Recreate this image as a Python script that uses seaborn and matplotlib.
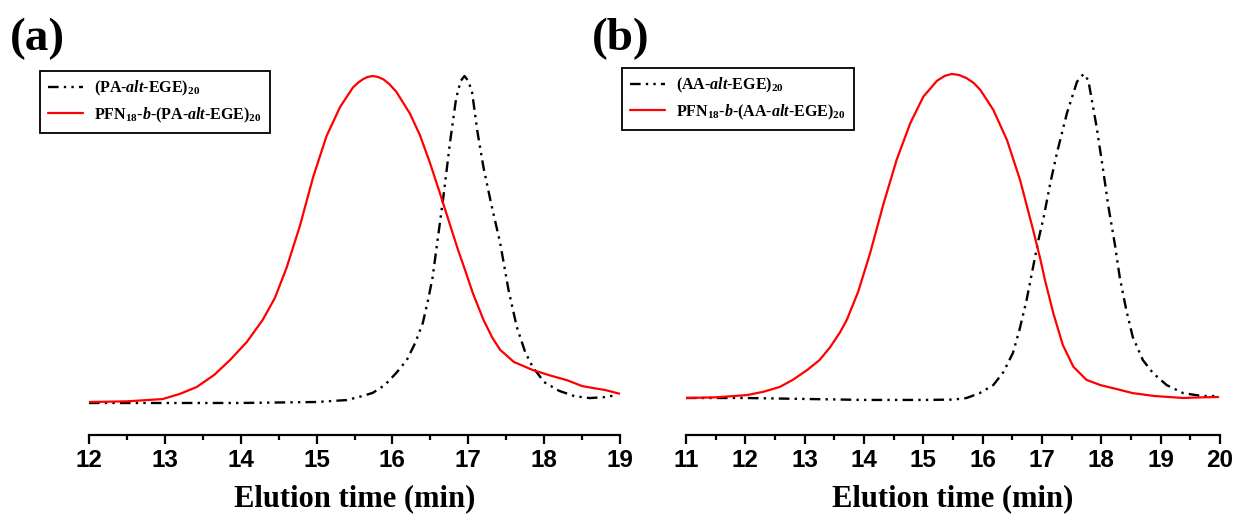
import matplotlib
matplotlib.use("Agg")
import matplotlib.pyplot as plt
import pandas as pd
import seaborn as sns
from matplotlib.ticker import MultipleLocator
from matplotlib.font_manager import FontProperties

# Normalised SEC traces (detector response vs elution time, min)
time_a_macro = [12.0, 13.0, 14.0, 15.0, 15.4, 15.6, 15.74, 15.9, 16.05, 16.19, 16.3, 16.4,
                16.47, 16.53, 16.58, 16.67, 16.76, 16.84, 16.9, 16.95, 17.0, 17.05, 17.12,
                17.2, 17.3, 17.42, 17.53, 17.64, 17.75, 17.85, 18.0, 18.2, 18.4, 18.6,
                18.8, 18.95]
signal_a_macro = [-0.003, -0.003, -0.003, 0.0, 0.006, 0.018, 0.028, 0.052, 0.089, 0.129,
                  0.181, 0.242, 0.313, 0.383, 0.470, 0.626, 0.798, 0.932, 0.985, 1.0,
                  0.985, 0.950, 0.830, 0.720, 0.610, 0.488, 0.344, 0.230, 0.153, 0.107,
                  0.061, 0.034, 0.018, 0.012, 0.015, 0.021]

time_a_block = [12.0, 12.5, 12.97, 13.2, 13.42, 13.65, 13.86, 14.08, 14.29, 14.45, 14.605,
                14.78, 14.955, 15.13, 15.31, 15.48, 15.55, 15.61, 15.67, 15.74, 15.81,
                15.88, 15.96, 16.05, 16.23, 16.36, 16.49, 16.62, 16.76, 16.86, 16.95,
                17.06, 17.2, 17.32, 17.42, 17.6, 17.85, 18.1, 18.3, 18.5, 18.64, 18.8,
                19.0]
signal_a_block = [0.0, 0.002, 0.009, 0.025, 0.046, 0.083, 0.129, 0.184, 0.252, 0.319,
                  0.412, 0.540, 0.690, 0.815, 0.905, 0.965, 0.980, 0.990, 0.997, 1.0,
                  0.997, 0.990, 0.975, 0.952, 0.885, 0.820, 0.737, 0.645, 0.543, 0.470,
                  0.410, 0.334, 0.252, 0.196, 0.160, 0.123, 0.098, 0.080, 0.067, 0.049,
                  0.043, 0.037, 0.025]

time_b_macro = [11.0, 12.0, 13.0, 14.0, 15.0, 15.5, 15.73, 15.95, 16.18, 16.35, 16.51,
                16.62, 16.74, 16.84, 16.94, 17.03, 17.14, 17.25, 17.42, 17.59, 17.70,
                17.78, 17.92, 18.03, 18.12, 18.23, 18.31, 18.42, 18.53, 18.7, 18.87, 19.1,
                19.38, 19.7, 19.95]
signal_b_macro = [0.0, 0.0, -0.003, -0.006, -0.006, -0.005, 0.0, 0.015, 0.040, 0.080,
                  0.139, 0.210, 0.302, 0.395, 0.488, 0.560, 0.663, 0.755, 0.879, 0.976,
                  1.0, 0.981, 0.837, 0.704, 0.590, 0.472, 0.373, 0.272, 0.188, 0.117,
                  0.077, 0.040, 0.015, 0.006, 0.006]

time_b_block = [11.0, 11.5, 12.03, 12.3, 12.58, 12.8, 13.04, 13.25, 13.43, 13.6, 13.71,
                13.9, 14.1, 14.33, 14.55, 14.78, 15.0, 15.23, 15.36, 15.48, 15.6, 15.73,
                15.85, 15.96, 16.18, 16.41, 16.63, 16.85, 16.97, 17.05, 17.19, 17.35,
                17.53, 17.75, 17.98, 18.25, 18.53, 18.9, 19.38, 19.7, 19.97]
signal_b_block = [0.0, 0.002, 0.009, 0.019, 0.034, 0.056, 0.086, 0.117, 0.157, 0.204,
                  0.241, 0.327, 0.445, 0.600, 0.735, 0.848, 0.930, 0.979, 0.994, 1.0,
                  0.997, 0.987, 0.972, 0.951, 0.889, 0.796, 0.673, 0.519, 0.430, 0.364,
                  0.262, 0.164, 0.096, 0.056, 0.040, 0.028, 0.015, 0.006, 0.0, 0.002,
                  0.003]

labels_a = [r"(PA-$\mathit{alt}$-EGE)$_{20}$",
            r"PFN$_{18}$-$\mathit{b}$-(PA-$\mathit{alt}$-EGE)$_{20}$"]
labels_b = [r"(AA-$\mathit{alt}$-EGE)$_{20}$",
            r"PFN$_{18}$-$\mathit{b}$-(AA-$\mathit{alt}$-EGE)$_{20}$"]
panel_tags = ["(a)", "(b)"]
xlabel = "Elution time (min)"

sns.set_style("ticks")
plt.rcParams.update({
    "font.family": ["Liberation Serif", "DejaVu Serif"],
    "font.weight": "bold",
    "text.color": "black",
    "axes.labelcolor": "black",
    "axes.edgecolor": "black",
    "xtick.color": "black",
    "mathtext.fontset": "custom",
    "mathtext.rm": "Liberation Serif:bold",
    "mathtext.it": "Liberation Serif:italic:bold",
    "mathtext.bf": "Liberation Serif:bold",
    "axes.linewidth": 1.6,
    "xtick.major.width": 1.6,
    "xtick.minor.width": 1.6,
    "xtick.major.size": 6.5,
    "xtick.minor.size": 3.5,
})

fig = plt.figure(figsize=(12.36, 5.15), dpi=100)
W, H = 1236, 515

dash_dot_dot = (0, (4.5, 2.2, 1.0, 2.2, 1.0, 2.2))
tick_font = FontProperties(family="Liberation Sans", weight="bold", size=17.5)

panels = [
    dict(rect=(89, 620), xlim=(12, 19), ylim=(-0.0997, 1.0798),
         macro=(time_a_macro, signal_a_macro), block=(time_a_block, signal_a_block),
         labels=labels_a, tag=panel_tags[0], tag_x=37, legend_xy=(40, 71)),
    dict(rect=(686, 1220), xlim=(11, 20), ylim=(-0.1127, 1.074),
         macro=(time_b_macro, signal_b_macro), block=(time_b_block, signal_b_block),
         labels=labels_b, tag=panel_tags[1], tag_x=621, legend_xy=(622, 68)),
]

bottom_px, top_px = 434.5, 50
for p in panels:
    l, r = p["rect"]
    ax = fig.add_axes([l / W, (H - bottom_px) / H, (r - l) / W, (bottom_px - top_px) / H])
    df_m = pd.DataFrame({"t": p["macro"][0], "s": p["macro"][1]})
    df_b = pd.DataFrame({"t": p["block"][0], "s": p["block"][1]})
    sns.lineplot(data=df_m, x="t", y="s", ax=ax, color="black", linewidth=1.7,
                 linestyle=dash_dot_dot, label=p["labels"][0])
    sns.lineplot(data=df_b, x="t", y="s", ax=ax, color="#ff0000", linewidth=1.6,
                 label=p["labels"][1])
    ax.set_xlim(*p["xlim"])
    ax.set_ylim(*p["ylim"])
    sns.despine(ax=ax, left=True, top=True, right=True)
    ax.set_yticks([])
    ax.set_ylabel("")
    ax.xaxis.set_major_locator(MultipleLocator(1))
    ax.xaxis.set_minor_locator(MultipleLocator(0.5))
    ax.tick_params(axis="x", which="both", direction="out", colors="black", pad=4)
    for t in ax.get_xticklabels():
        t.set_fontproperties(tick_font)
    ax.set_xlabel(xlabel, fontsize=22, fontweight="bold", labelpad=9)
    ax.patch.set_alpha(0)

    leg = ax.legend(loc="upper left",
                    bbox_to_anchor=(p["legend_xy"][0] / W, 1 - p["legend_xy"][1] / H),
                    bbox_transform=fig.transFigure, borderaxespad=0,
                    frameon=True, fancybox=False, framealpha=1, edgecolor="black",
                    fontsize=11.5, handlelength=2.2, handletextpad=0.7,
                    labelspacing=0.45, borderpad=0.5)
    leg.get_frame().set_linewidth(1.3)

    fig.text(p["tag_x"] / W, 1 - 39 / H, p["tag"], fontsize=34, fontweight="bold",
             ha="center", va="center")

fig.savefig("out.png", dpi=100, facecolor="white")
